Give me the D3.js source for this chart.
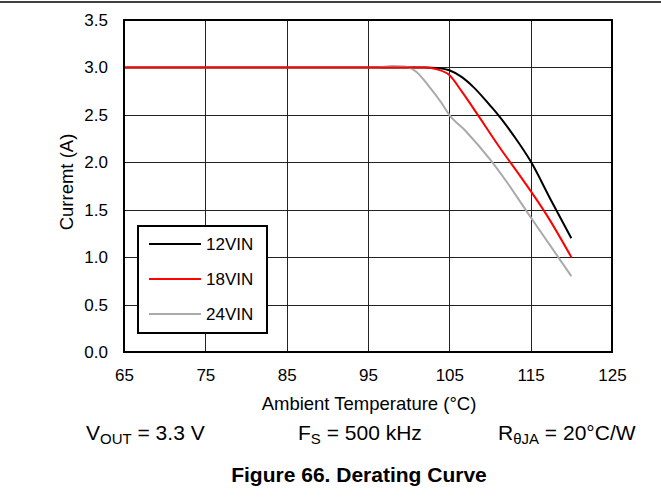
<!DOCTYPE html>
<html><head><meta charset="utf-8">
<script src="https://cdn.jsdelivr.net/npm/d3@7"></script>
<style>body{margin:0;background:#fff}svg{display:block}text{font-family:Arial,"Liberation Sans",sans-serif}</style>
</head><body><svg id="c" width="661" height="501"></svg>
<script>
const seriesNames = ["12VIN","18VIN","24VIN"];
const seriesColors = ["#000000","#ff0000","#aaaaaa"];
const vin12 = [[65,3.0],[95,3.0],[100,3.0],[102,3.0],[103.5,2.995],[105,2.97],[106.5,2.9],[108,2.79],[110,2.6],[111,2.5],[113,2.27],[115,2.01],[117.5,1.6],[120,1.2]];
const vin18 = [[65,3.0],[100,3.0],[102,3.0],[103.5,2.98],[105,2.92],[106.5,2.75],[108.5,2.5],[111,2.18],[114,1.82],[117,1.44],[120,1.0]];
const vin24 = [[65,3.0],[96,3.0],[98,3.015],[99.5,3.01],[101,2.95],[102.5,2.8],[104,2.63],[105,2.5],[107,2.33],[110,2.03],[112,1.8],[115,1.42],[120,0.8]];
const xTicks = [65,75,85,95,105,115,125];
const yTicks = [0,0.5,1.0,1.5,2.0,2.5,3.0,3.5];

const FONT = "Arial, 'Liberation Sans', sans-serif";
const svg = d3.select("#c");
const L=124,R=612,T=20,B=352;
const x = d3.scaleLinear().domain([65,125]).range([L,R]);
const y = d3.scaleLinear().domain([0,3.5]).range([B,T]);

svg.append("line").attr("x1",0).attr("x2",661).attr("y1",2).attr("y2",2).attr("stroke","#000").attr("stroke-width",1.5);

// grid
const g = svg.append("g");
g.selectAll(".vx").data(xTicks.slice(1,-1)).join("line")
 .attr("x1",d=>Math.round(x(d))+0.5).attr("x2",d=>Math.round(x(d))+0.5).attr("y1",T).attr("y2",B)
 .attr("stroke","#222").attr("stroke-width",1);
g.selectAll(".hy").data(yTicks.slice(1,-1)).join("line")
 .attr("y1",d=>Math.round(y(d))+0.5).attr("y2",d=>Math.round(y(d))+0.5).attr("x1",L).attr("x2",R)
 .attr("stroke","#222").attr("stroke-width",1);

// axes labels
const xa = d3.axisBottom(x).tickValues(xTicks).tickSize(0).tickPadding(0).tickFormat(d3.format("d"));
const xg = svg.append("g").attr("transform",`translate(0,${B})`).call(xa);
xg.attr("font-size",null).attr("font-family",null);
xg.select(".domain").remove();
xg.selectAll("text").attr("y",23).attr("dy","0.36em").style("font-size","17px").style("font-family",FONT).attr("fill","#000");
const ya = d3.axisLeft(y).tickValues(yTicks).tickSize(0).tickPadding(16).tickFormat(d3.format(".1f"));
const yg = svg.append("g").attr("transform",`translate(${L},0)`).call(ya);
yg.attr("font-size",null).attr("font-family",null);
yg.select(".domain").remove();
yg.selectAll("text").style("font-size","17px").style("font-family",FONT).attr("fill","#000");

// curves
const line = d3.line().x(d=>x(d[0])).y(d=>y(d[1])).curve(d3.curveMonotoneX);
const all = [vin12,vin18,vin24];
[0,2,1].forEach(i=>{
  svg.append("path").attr("d",line(all[i])).attr("fill","none").attr("stroke",seriesColors[i]).attr("stroke-width",2);
});

// frame
svg.append("rect").attr("x",L).attr("y",T).attr("width",R-L).attr("height",B-T).attr("fill","none").attr("stroke","#000").attr("stroke-width",2);

// legend
const lg = svg.append("g");
lg.append("rect").attr("x",138).attr("y",226).attr("width",129).attr("height",107).attr("fill","#fff").attr("stroke","#000").attr("stroke-width",2);
seriesNames.forEach((n,i)=>{
  const yy = 244 + i*35;
  lg.append("line").attr("x1",149).attr("x2",201).attr("y1",yy).attr("y2",yy).attr("stroke",seriesColors[i]).attr("stroke-width",2);
  lg.append("text").attr("x",206).attr("y",yy).attr("dy","0.36em").style("font-size","17px").text(n);
});

// axis titles
svg.append("text").attr("x",369).attr("y",410).attr("text-anchor","middle").style("font-size","18.5px").text("Ambient Temperature (°C)");
svg.append("text").attr("transform","translate(66,182) rotate(-90)").attr("dy","0.36em").attr("text-anchor","middle").style("font-size","18.5px").text("Curremt (A)");

// footer
function sub(xp, main, s, rest){
  const t = svg.append("text").attr("x",xp).attr("y",440).style("font-size","21px");
  t.append("tspan").text(main);
  t.append("tspan").style("font-size","15px").attr("dy",4).text(s);
  t.append("tspan").attr("dy",-4).text(rest);
}
sub(86,"V","OUT"," = 3.3 V");
sub(298,"F","S"," = 500 kHz");
sub(498,"R","θJA"," = 20°C/W");

svg.append("text").attr("x",359).attr("y",482).attr("text-anchor","middle").style("font-size","21px").style("font-weight","bold").text("Figure 66. Derating Curve");
</script></body></html>
